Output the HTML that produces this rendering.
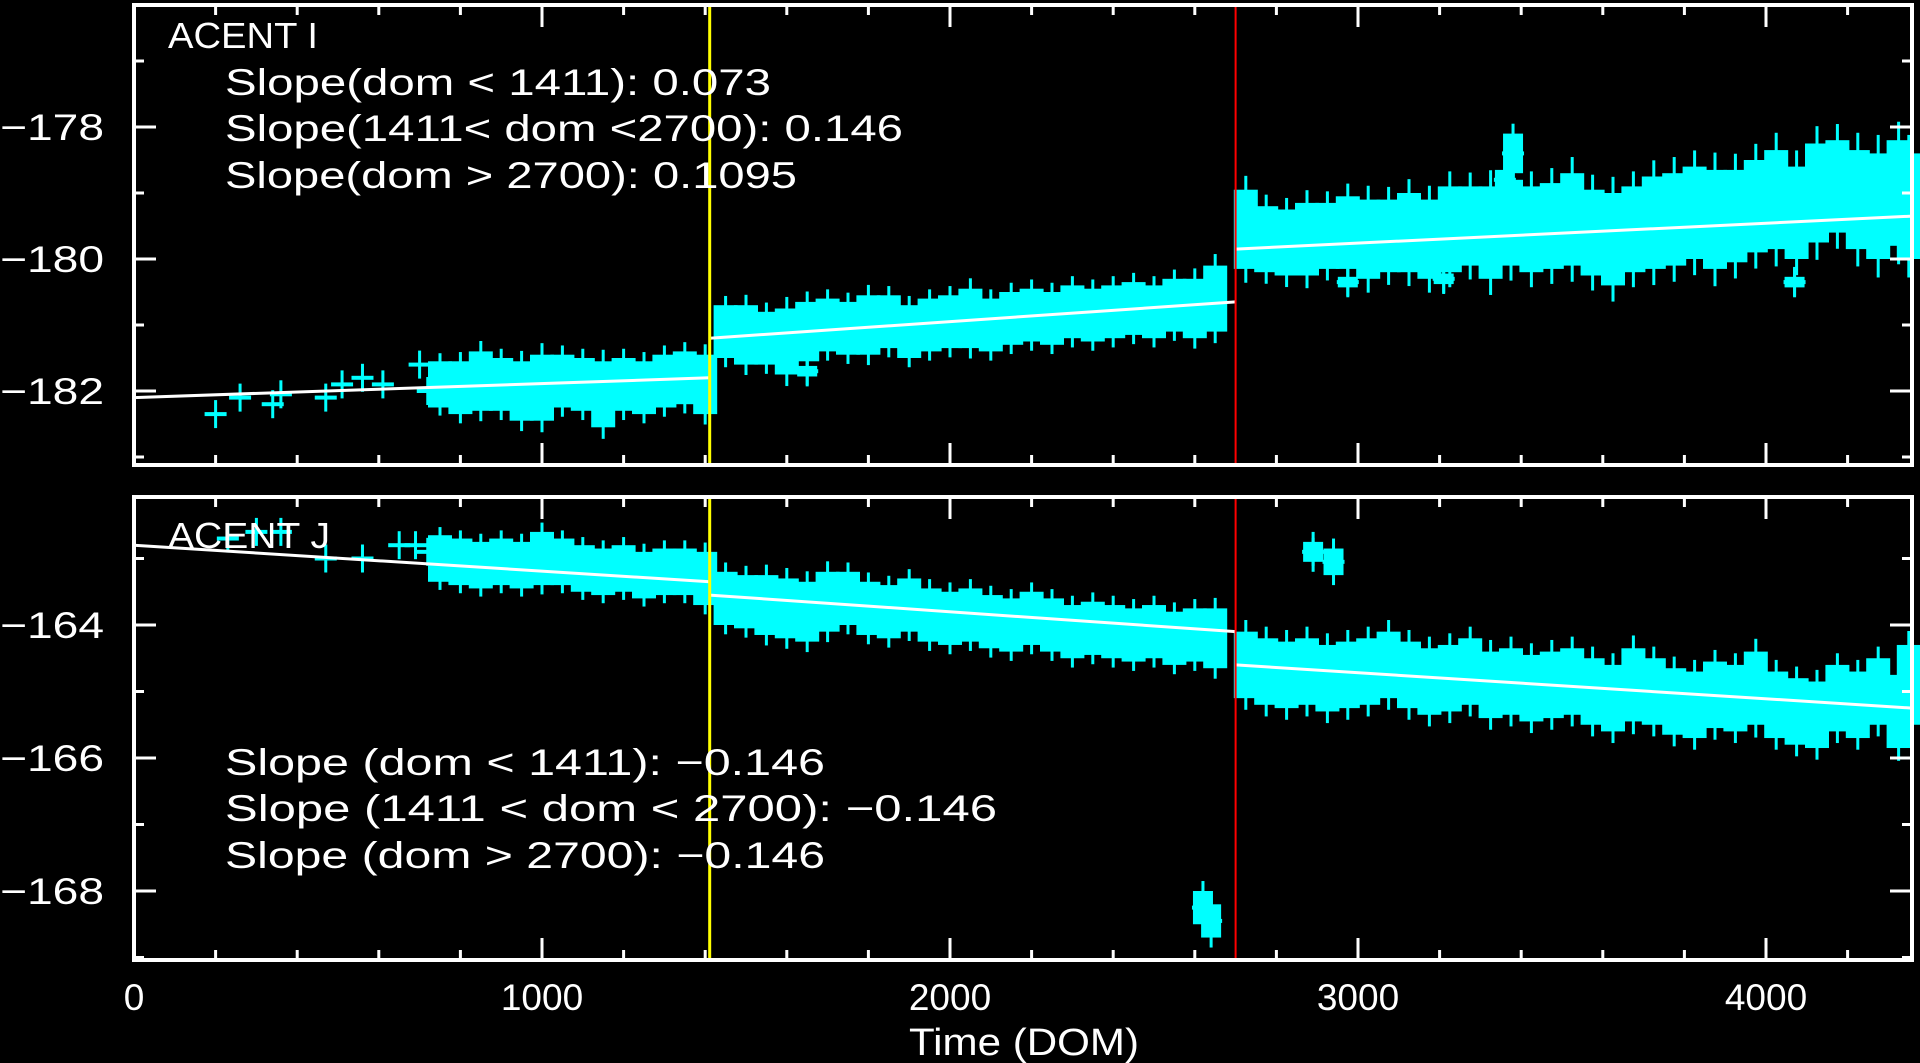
<!DOCTYPE html>
<html><head><meta charset="utf-8"><style>
html,body{margin:0;padding:0;background:#000;width:1920px;height:1063px;overflow:hidden}
svg text{font-family:"Liberation Sans",sans-serif;fill:#fff}
</style></head><body>
<svg id="chart" width="1920" height="1063" viewBox="0 0 1920 1063" xmlns="http://www.w3.org/2000/svg">
<rect width="1920" height="1063" fill="#000"/>
<g id="layer"></g>
</svg>
<script>
// ---- data ----
const xTicks=[0,1000,2000,3000,4000];
const yTicksI=[-178,-180,-182];
const yTicksJ=[-164,-166,-168];
const breaks=[1411,2700];
const sparseDomI=[200,260,340,360,470,510,560,610,700,720];
const sparseValI=[-182.35,-182.1,-182.2,-182.05,-182.1,-181.9,-181.8,-181.9,-181.6,-182.0];
const domI1=[750,800,850,900,950,1000,1050,1100,1150,1200,1250,1300,1350,1400];
const valI1=[-181.9,-181.95,-181.85,-181.9,-182.0,-181.95,-181.85,-181.9,-182.05,-181.9,-181.95,-181.85,-181.8,-181.9];
const errI1=[0.35,0.4,0.45,0.4,0.45,0.5,0.4,0.4,0.5,0.4,0.4,0.4,0.4,0.45];
const domI2=[1450,1500,1550,1600,1650,1700,1750,1800,1850,1900,1950,2000,2050,2100,2150,2200,2250,2300,2350,2400,2450,2500,2550,2600,2650];
const valI2=[-181.1,-181.15,-181.2,-181.25,-181.1,-181.0,-181.05,-181.0,-180.95,-181.1,-181.0,-180.95,-180.9,-181.0,-180.9,-180.85,-180.9,-180.8,-180.85,-180.8,-180.75,-180.8,-180.7,-180.75,-180.6];
const errI2=[0.4,0.45,0.4,0.5,0.45,0.4,0.4,0.45,0.4,0.4,0.4,0.4,0.45,0.4,0.4,0.4,0.4,0.4,0.4,0.4,0.4,0.4,0.4,0.45,0.5];
const domI3=[2725,2775,2825,2875,2925,2975,3025,3075,3125,3175,3225,3275,3325,3375,3425,3475,3525,3575,3625,3675,3725,3775,3825,3875,3925,3975,4025,4075,4125,4175,4225,4275,4325,4350];
const valI3=[-179.55,-179.7,-179.75,-179.7,-179.65,-179.6,-179.7,-179.65,-179.6,-179.7,-179.55,-179.5,-179.6,-179.45,-179.55,-179.5,-179.4,-179.6,-179.7,-179.55,-179.45,-179.4,-179.3,-179.4,-179.35,-179.2,-179.1,-179.3,-179.0,-178.9,-179.1,-179.2,-179.0,-179.2];
const errI3=[0.6,0.5,0.5,0.55,0.5,0.55,0.6,0.55,0.6,0.6,0.65,0.6,0.7,0.65,0.65,0.65,0.7,0.65,0.7,0.65,0.7,0.7,0.7,0.75,0.7,0.7,0.75,0.7,0.75,0.7,0.75,0.8,0.8,0.8];
const outDomI=[3380,3360,1650,2975,3210,4070];
const outValI=[-178.4,-178.8,-181.7,-180.35,-180.3,-180.35];
const outErrI=[0.3,0.15,0.08,0.08,0.08,0.08];
const fitI=[[0,-182.1,1411,-181.8],[1411,-181.2,2700,-180.65],[2700,-179.85,4358,-179.35]];

const sparseDomJ=[230,300,360,470,560,650,690,720];
const sparseValJ=[-162.7,-162.6,-162.6,-163.0,-163.0,-162.8,-162.8,-162.9];
const domJ1=[750,800,850,900,950,1000,1050,1100,1150,1200,1250,1300,1350,1400];
const valJ1=[-163.0,-163.05,-163.1,-163.05,-163.1,-163.0,-163.05,-163.15,-163.2,-163.15,-163.25,-163.2,-163.2,-163.3];
const errJ1=[0.35,0.35,0.35,0.35,0.35,0.4,0.35,0.35,0.35,0.35,0.35,0.35,0.35,0.4];
const domJ2=[1450,1500,1550,1600,1650,1700,1750,1800,1850,1900,1950,2000,2050,2100,2150,2200,2250,2300,2350,2400,2450,2500,2550,2600,2650];
const valJ2=[-163.6,-163.65,-163.7,-163.75,-163.8,-163.65,-163.6,-163.75,-163.8,-163.7,-163.85,-163.9,-163.85,-163.95,-164.0,-163.9,-164.0,-164.1,-164.05,-164.1,-164.15,-164.1,-164.2,-164.15,-164.2];
const errJ2=[0.4,0.4,0.45,0.45,0.45,0.45,0.4,0.4,0.4,0.4,0.4,0.4,0.4,0.4,0.4,0.4,0.4,0.4,0.4,0.4,0.4,0.4,0.4,0.4,0.45];
const domJ3=[2725,2775,2825,2875,2925,2975,3025,3075,3125,3175,3225,3275,3325,3375,3425,3475,3525,3575,3625,3675,3725,3775,3825,3875,3925,3975,4025,4075,4125,4175,4225,4275,4325,4350];
const valJ3=[-164.6,-164.7,-164.75,-164.7,-164.8,-164.75,-164.7,-164.6,-164.75,-164.85,-164.8,-164.7,-164.9,-164.85,-164.95,-164.9,-164.85,-165.0,-165.1,-164.9,-165.0,-165.15,-165.2,-165.05,-165.1,-164.95,-165.2,-165.3,-165.35,-165.1,-165.2,-165.0,-165.3,-164.9];
const errJ3=[0.5,0.5,0.5,0.5,0.5,0.5,0.5,0.5,0.5,0.5,0.5,0.5,0.5,0.5,0.5,0.5,0.5,0.5,0.5,0.55,0.5,0.5,0.5,0.5,0.5,0.55,0.5,0.5,0.5,0.5,0.5,0.5,0.55,0.6];
const outDomJ=[2620,2640,2890,2940];
const outValJ=[-168.25,-168.45,-162.9,-163.05];
const outErrJ=[0.25,0.25,0.15,0.2];
const fitJ=[[0,-162.8,1411,-163.35],[1411,-163.55,2700,-164.1],[2700,-164.6,4358,-165.25]];

// ---- layout ----
const NS='http://www.w3.org/2000/svg';
const layer=document.getElementById('layer');
const X0=134, XR=1912, PX=0.408;
const sx=d=>X0+d*PX;
const P1={top:5,bot:465,v0:-178,p0:127,ppu:66};
const P2={top:497,bot:960,v0:-164,p0:625,ppu:66.5};
const syf=P=>v=>P.p0-(v-P.v0)*P.ppu;
function mk(tag,attrs,parent){const e=document.createElementNS(NS,tag);for(const k in attrs)e.setAttribute(k,attrs[k]);(parent||layer).appendChild(e);return e;}

function panel(P,name,yTicks,title,labels,sets,sparse,outs,fit){
  const sy=syf(P);
  const g=mk('g',{});
  
  
  const dg=mk('g',{fill:'#00ffff',stroke:'none'},g);
  
  
  sets.forEach(s=>{
    s[0].forEach((d,i)=>{
      const v=s[1][i],e=s[2][i];
      const r=mk('rect',{x:sx(d)-12,y:sy(v+e),width:24,height:sy(v-e)-sy(v+e)},dg);
      
      
      const w=mk('rect',{x:sx(d)-1.5,y:sy(v+e*1.35),width:3,height:sy(v-e*1.35)-sy(v+e*1.35)},dg);
      
      
    });
  });
  const plus=(d,v,nm)=>{
    const h=mk('rect',{x:sx(d)-11,y:sy(v)-2,width:22,height:4},dg);
    
    
    const vv=mk('rect',{x:sx(d)-1.5,y:sy(v)-14,width:3,height:28},dg);
    
    
  };
  sparse[0].forEach((d,i)=>plus(d,sparse[1][i],'sparse-point'));
  outs[0].forEach((d,i)=>{
    const v=outs[1][i], e=outs[2][i];
    plus(d,v,'outlier-point');
    const r=mk('rect',{x:sx(d)-10,y:sy(v+e),width:20,height:sy(v-e)-sy(v+e)},dg);
    
    
    const w=mk('rect',{x:sx(d)-1.5,y:sy(v+e+0.15),width:3,height:sy(v-e-0.15)-sy(v+e+0.15)},dg);
    
    
  });
  fit.forEach(f=>{
    const l=mk('line',{x1:sx(f[0]),y1:sy(f[1]),x2:sx(f[2]),y2:sy(f[3]),stroke:'#fff','stroke-width':3},g);
    
    
  });
  const yl=mk('line',{x1:sx(breaks[0]),y1:P.top,x2:sx(breaks[0]),y2:P.bot,stroke:'#ffff00','stroke-width':3},g);
  
  
  const rl=mk('line',{x1:sx(breaks[1]),y1:P.top,x2:sx(breaks[1]),y2:P.bot,stroke:'#ff0000','stroke-width':2},g);
  
  
  const fr=mk('rect',{x:X0,y:P.top,width:XR-X0,height:P.bot-P.top,fill:'none',stroke:'#fff','stroke-width':4},g);
  
  
  for(let d=0; d<=4358; d+=200){
    const L=(d%1000===0)?22:10;
    mk('line',{x1:sx(d),y1:P.bot,x2:sx(d),y2:P.bot-L,stroke:'#fff','stroke-width':3},g);
    mk('line',{x1:sx(d),y1:P.top,x2:sx(d),y2:P.top+L,stroke:'#fff','stroke-width':3},g);
  }
  const vTop=P.v0+(P.p0-P.top)/P.ppu, vBot=P.v0-(P.bot-P.p0)/P.ppu;
  for(let v=Math.ceil(vBot); v<=vTop; v++){
    const L=(v%2===0)?22:10;
    mk('line',{x1:X0,y1:sy(v),x2:X0+L,y2:sy(v),stroke:'#fff','stroke-width':3},g);
    mk('line',{x1:XR,y1:sy(v),x2:XR-L,y2:sy(v),stroke:'#fff','stroke-width':3},g);
  }
  yTicks.forEach(v=>{
    const t=mk('text',{x:104,y:sy(v)+13,'text-anchor':'end','font-size':37,textLength:104,lengthAdjust:'spacingAndGlyphs'},g);
    t.textContent=String(v).replace('-','\u2212');
    
    
  });
  const tt=mk('text',{x:168,y:title[1],'font-size':36,textLength:title[2],lengthAdjust:'spacingAndGlyphs'},g);
  tt.textContent=title[0];
  
  
  labels.forEach(lb=>{
    const t=mk('text',{x:225,y:lb[1],'font-size':37,textLength:lb[2],lengthAdjust:'spacingAndGlyphs'},g);
    t.textContent=lb[0];
    
    
  });
}

panel(P1,'acent-i-panel',yTicksI,['ACENT I',48,150],
  [['Slope(dom < 1411): 0.073',95,546],['Slope(1411< dom <2700): 0.146',141,678],['Slope(dom > 2700): 0.1095',188,572]],
  [[domI1,valI1,errI1],[domI2,valI2,errI2],[domI3,valI3,errI3]],[sparseDomI,sparseValI],[outDomI,outValI,outErrI],fitI);
panel(P2,'acent-j-panel',yTicksJ,['ACENT J',548,162],
  [['Slope (dom < 1411): \u22120.146',775,600],['Slope (1411 < dom < 2700): \u22120.146',821,772],['Slope (dom > 2700): \u22120.146',868,600]],
  [[domJ1,valJ1,errJ1],[domJ2,valJ2,errJ2],[domJ3,valJ3,errJ3]],[sparseDomJ,sparseValJ],[outDomJ,outValJ,outErrJ],fitJ);

xTicks.forEach(d=>{
  const t=mk('text',{x:sx(d),y:1010,'text-anchor':'middle','font-size':37});
  t.textContent=String(d);
  
  
});
const xt=mk('text',{x:909,y:1055,'font-size':38,textLength:230,lengthAdjust:'spacingAndGlyphs'});
xt.textContent='Time (DOM)';


</script>
</body></html>
